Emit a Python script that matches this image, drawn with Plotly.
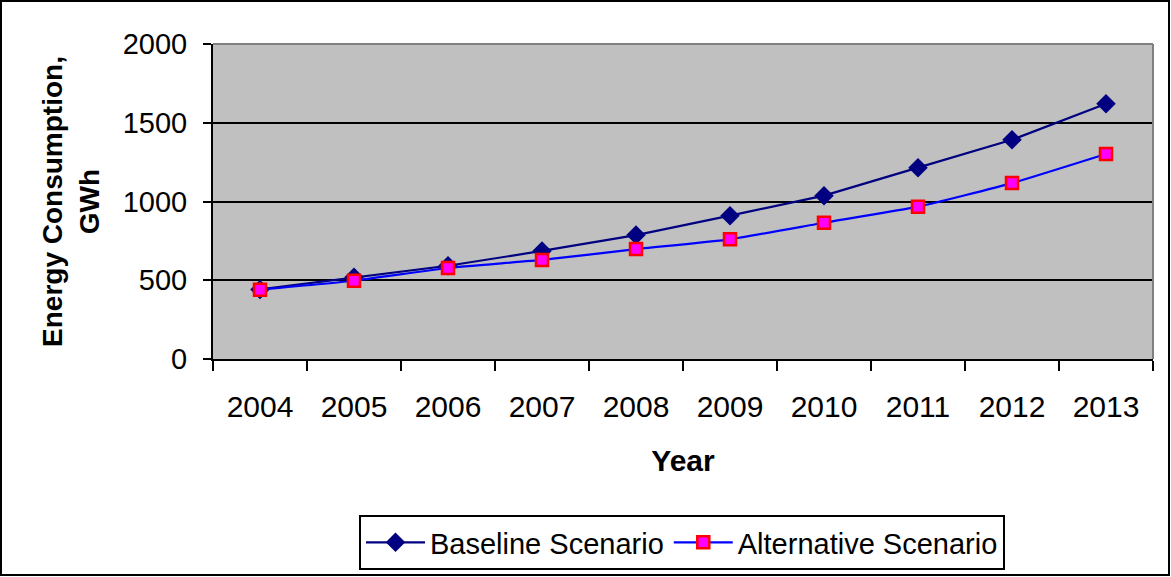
import plotly.graph_objects as go

years = ["2004", "2005", "2006", "2007", "2008", "2009", "2010", "2011", "2012", "2013"]
baseline = [442, 519, 592, 686, 787, 910, 1037, 1215, 1392, 1621]
alternative = [440, 497, 578, 629, 698, 760, 865, 967, 1117, 1302]
y_ticks = [0, 500, 1000, 1500, 2000]

W, H = 1171, 577
ML, MR, MT, MB = 213, 18, 44, 218
PW, PH = W - ML - MR, H - MT - MB

FONT = "Liberation Sans, Arial, sans-serif"

fig = go.Figure()
fig.add_trace(go.Scatter(
    x=years, y=baseline, name="Baseline Scenario", mode="lines+markers",
    line=dict(color="#000080", width=2.2),
    marker=dict(symbol="diamond", size=15, color="#000080",
                line=dict(color="#000080", width=0)),
))
fig.add_trace(go.Scatter(
    x=years, y=alternative, name="Alternative Scenario", mode="lines+markers",
    line=dict(color="#0000FF", width=2.2, shape="spline", smoothing=0.4),
    marker=dict(symbol="square", size=12, color="#FF00FF",
                line=dict(color="#FF0000", width=2.5)),
))

shapes = [
    # outer chart border
    dict(type="rect", xref="paper", yref="paper",
         x0=-(ML - 1) / PW, x1=1 + (MR - 2) / PW,
         y0=-(MB - 2) / PH, y1=1 + (MT - 1) / PH,
         line=dict(color="black", width=2), fillcolor="rgba(0,0,0,0)", layer="below"),
    # grey top/right plot border
    dict(type="line", xref="paper", yref="paper", x0=0, x1=1, y0=1, y1=1,
         line=dict(color="#808080", width=2), layer="above"),
    dict(type="line", xref="paper", yref="paper", x0=1, x1=1, y0=0, y1=1,
         line=dict(color="#808080", width=2), layer="above"),
]

fig.update_layout(
    width=W, height=H,
    margin=dict(l=ML, r=MR, t=MT, b=MB, autoexpand=False),
    paper_bgcolor="white", plot_bgcolor="#C0C0C0",
    font=dict(family=FONT, color="black", size=29),
    showlegend=True,
    legend=dict(
        orientation="h", xref="container", yref="container",
        x=682 / W, xanchor="center", y=1 - 515 / H, yanchor="top",
        bordercolor="black", borderwidth=2, bgcolor="white",
        font=dict(size=29, family=FONT), itemwidth=59,
        tracegroupgap=0,
    ),
    shapes=shapes,
    xaxis=dict(
        type="category", range=[-0.5, len(years) - 0.5],
        tickson="boundaries", ticks="outside", ticklen=10,
        tickwidth=2, tickcolor="black", showline=True, linecolor="black", linewidth=2,
        showgrid=False, tickfont=dict(size=30), ticklabelstandoff=20,
        title=dict(text="<b>Year</b>", font=dict(size=30), standoff=28),
        automargin=False,
    ),
    yaxis=dict(
        range=[0, 2000], tickvals=y_ticks, ticks="outside", ticklen=8,
        tickwidth=2, tickcolor="black", showline=True, linecolor="black", linewidth=2,
        showgrid=True, gridcolor="black", gridwidth=1.5, zeroline=False,
        tickfont=dict(size=29), ticklabelstandoff=10,
        title=dict(text="<b>Energy Consumption,<br>GWh</b>", font=dict(size=28), standoff=15),
        automargin=False,
    ),
)

fig.write_html("out.html", config={"displayModeBar": False},
               post_script="document.body.style.margin='0';document.body.style.overflow='hidden';")
